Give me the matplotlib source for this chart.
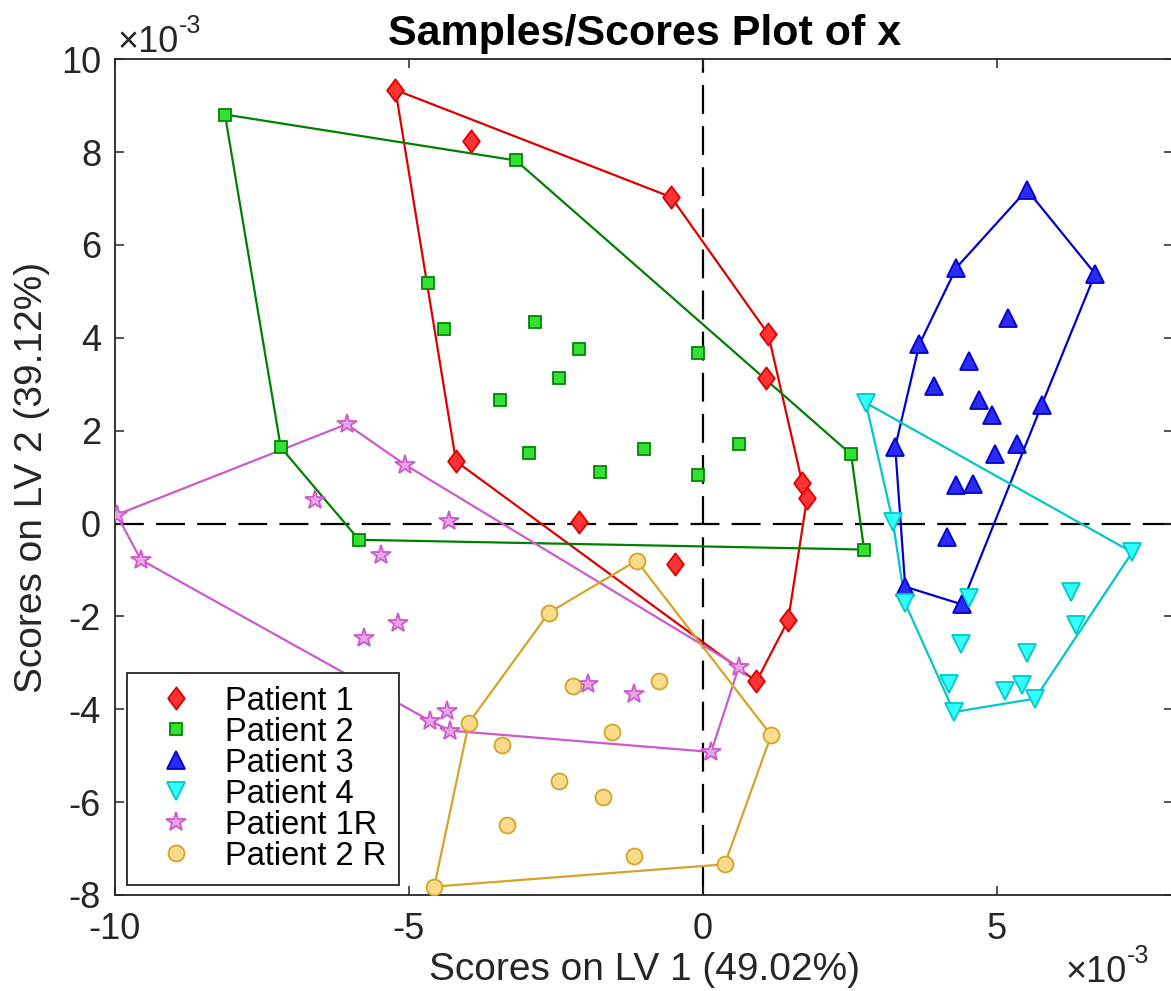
import matplotlib
matplotlib.use('Agg')
import matplotlib.pyplot as plt
from matplotlib.path import Path
import numpy as np

plt.rcParams['font.family'] = ['Liberation Sans', 'DejaVu Sans']
plt.rcParams['axes.unicode_minus'] = False

# scores in units of 1e-3; "edge" points are the class outline in drawing order
p1_edge_x = [-5.23, -0.54, 1.11, 1.69, 1.77, 1.45, 0.91, -4.20]
p1_edge_y = [9.34, 7.03, 4.08, 0.87, 0.55, -2.08, -3.40, 1.34]
p1_in_x = [-3.94, 1.07, -2.11, -0.47]
p1_in_y = [8.24, 3.14, 0.03, -0.87]

p2_edge_x = [-8.13, -3.18, 2.52, 2.74, -5.85, -7.18]
p2_edge_y = [8.81, 7.82, 1.49, -0.56, -0.35, 1.64]
p2_in_x = [-4.68, -4.40, -2.86, -2.11, -2.45, -3.45, -0.09, -2.96, -1.00, -1.75, -0.09, 0.61]
p2_in_y = [5.18, 4.19, 4.34, 3.76, 3.13, 2.66, 3.67, 1.53, 1.60, 1.12, 1.04, 1.71]

p3_edge_x = [5.51, 6.67, 5.76, 4.40, 3.44, 3.27, 3.68, 4.31]
p3_edge_y = [7.19, 5.38, 2.55, -1.74, -1.36, 1.65, 3.86, 5.51]
p3_in_x = [5.18, 4.52, 3.93, 4.69, 4.91, 5.34, 4.97, 4.30, 4.59, 4.15]
p3_in_y = [4.43, 3.50, 2.96, 2.66, 2.33, 1.71, 1.49, 0.82, 0.86, -0.28]

p4_edge_x = [2.77, 7.30, 5.65, 4.27, 3.44, 3.23]
p4_edge_y = [2.60, -0.62, -3.77, -4.06, -1.72, 0.04]
p4_in_x = [4.52, 6.26, 6.34, 4.39, 5.51, 4.18, 5.14, 5.43]
p4_in_y = [-1.60, -1.47, -2.18, -2.60, -2.78, -3.45, -3.61, -3.48]

p1r_edge_x = [-9.97, -6.06, -5.07, 0.61, 0.14, -4.30, -4.64, -9.56]
p1r_edge_y = [0.19, 2.14, 1.27, -3.09, -4.92, -4.46, -4.25, -0.78]
p1r_in_x = [-6.60, -4.32, -5.48, -5.76, -5.19, -4.35, -1.96, -1.17]
p1r_in_y = [0.50, 0.06, -0.67, -2.46, -2.14, -4.03, -3.46, -3.67]

p2r_edge_x = [-1.13, 1.16, 0.37, -4.57, -3.98, -2.62]
p2r_edge_y = [-0.80, -4.56, -7.34, -7.82, -4.29, -1.92]
p2r_in_x = [-2.21, -0.75, -1.54, -3.41, -2.45, -1.70, -3.33, -1.17]
p2r_in_y = [-3.50, -3.40, -4.49, -4.77, -5.55, -5.88, -6.50, -7.17]

labels = ['Patient 1', 'Patient 2', 'Patient 3', 'Patient 4', 'Patient 1R', 'Patient 2 R']

diamond = Path([(0, 1), (0.75, 0), (0, -1), (-0.75, 0), (0, 1)],
               [Path.MOVETO, Path.LINETO, Path.LINETO, Path.LINETO, Path.CLOSEPOLY])

classes = [
    (p1_edge_x, p1_edge_y, p1_in_x, p1_in_y, diamond, 16, '#ff3333', '#dd0000', '#dd0000'),
    (p2_edge_x, p2_edge_y, p2_in_x, p2_in_y, 's', 9, '#33e033', '#008800', '#008000'),
    (p3_edge_x, p3_edge_y, p3_in_x, p3_in_y, '^', 13.5, '#2b2bf5', '#0000cc', '#0000cc'),
    (p4_edge_x, p4_edge_y, p4_in_x, p4_in_y, 'v', 13.5, '#33ffff', '#00c8c8', '#00c8c8'),
    (p1r_edge_x, p1r_edge_y, p1r_in_x, p1r_in_y, '*', 15, '#e6a3e6', '#cc5acc', '#cc5acc'),
    (p2r_edge_x, p2r_edge_y, p2r_in_x, p2r_in_y, 'o', 11.5, '#f8dc8c', '#d4a42a', '#d4a42a'),
]

fig = plt.figure(figsize=(11.71, 9.91), dpi=100)
ax = fig.add_axes([0.0982, 0.0969, 0.9038, 0.8433])

ax.axhline(0, color='k', lw=1.6, dashes=(13, 5.5), zorder=1)
ax.axvline(0, color='k', lw=1.6, dashes=(13, 5.5), zorder=1)

for (ex, ey, ix, iy, mk, ms, fc, ec, lc), lab in zip(classes, labels):
    ax.plot(ex + ex[:1], ey + ey[:1], color=lc, lw=1.6, zorder=2)
    ax.plot(ex + ix, ey + iy, linestyle='none', marker=mk, ms=ms,
            mfc=fc, mec=ec, mew=1.3, label=lab, zorder=3)

ax.set_xlim(-10, 8)
ax.set_ylim(-8, 10)
ax.set_xticks([-10, -5, 0, 5])
ax.set_yticks([-8, -6, -4, -2, 0, 2, 4, 6, 8, 10])

axcol = '#262626'
for s in ax.spines.values():
    s.set_color(axcol)
    s.set_linewidth(1.3)
ax.tick_params(direction='in', length=6.5, width=1.1, colors=axcol,
               top=True, right=True, labelsize=26)
ax.tick_params(axis='x', pad=12)
ax.tick_params(axis='y', pad=10)

ax.set_xlabel('Scores on LV 1 (49.02%)', fontsize=28, color=axcol, labelpad=4)
ax.set_ylabel('Scores on LV 2 (39.12%)', fontsize=28, color=axcol, labelpad=8)
ax.set_title('Samples/Scores Plot of x', fontsize=31, fontweight='bold', pad=10)

# exponent labels for both axes
for px, py in [(118, 52), (1066, 982)]:
    base = fig.text(px / 1171, 1 - py / 991, '\u00d710', fontsize=26,
                    color=axcol, ha='left', va='baseline')
    ax.annotate('-3', xy=(1.0, 0.62), xycoords=base, fontsize=18,
                color=axcol, ha='left', va='bottom', annotation_clip=False)

leg = ax.legend(loc='lower left', bbox_to_anchor=(0.0113, 0.012), borderaxespad=0,
                fontsize=23.5, labelspacing=0.0, borderpad=0.4, handlelength=2.2,
                handletextpad=0.4, fancybox=False, framealpha=1, numpoints=1)
leg.get_frame().set_edgecolor(axcol)
leg.get_frame().set_linewidth(1.3)

fig.savefig('out.png', dpi=100)
